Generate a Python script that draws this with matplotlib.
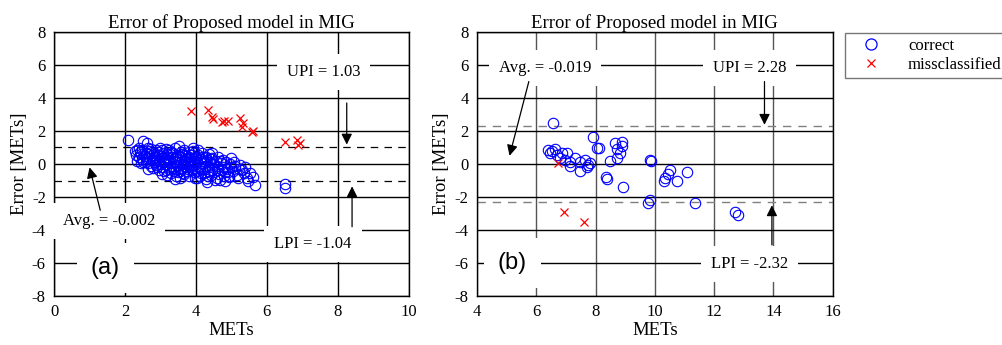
import matplotlib
matplotlib.use("Agg")
import matplotlib.pyplot as plt
from matplotlib.lines import Line2D

plt.rcParams['font.family'] = ['Liberation Serif', 'DejaVu Serif']
plt.rcParams['axes.unicode_minus'] = False

# ---------------- panel (a) data ----------------
a_correct_x = [
    2.09, 2.28, 2.35, 2.42, 2.52, 2.61, 2.30, 2.38, 2.45, 2.48, 2.40, 2.50, 2.35, 2.47, 2.55,
    2.58, 2.62, 2.65, 2.70, 2.72, 2.75, 2.78, 2.80, 2.83, 2.85, 2.88, 2.90, 2.92, 2.95, 2.97,
    2.99, 2.68, 2.74, 2.82, 2.86, 2.93, 2.96, 2.60, 2.64, 2.77,
    3.02, 3.04, 3.06, 3.08, 3.10, 3.12, 3.14, 3.17, 3.19, 3.21, 3.23, 3.25, 3.27, 3.29, 3.31,
    3.33, 3.35, 3.37, 3.39, 3.41, 3.43, 3.45, 3.47, 3.49, 3.05, 3.15, 3.22, 3.30, 3.36, 3.44,
    3.11, 3.26, 3.40, 3.48, 3.18,
    3.52, 3.55, 3.57, 3.59, 3.61, 3.63, 3.65, 3.67, 3.69, 3.71, 3.73, 3.75, 3.77, 3.79, 3.81,
    3.83, 3.85, 3.87, 3.89, 3.91, 3.93, 3.95, 3.97, 3.99, 3.54, 3.62, 3.70, 3.78, 3.86, 3.94,
    3.58, 3.66, 3.74, 3.82, 3.90,
    4.02, 4.04, 4.06, 4.08, 4.10, 4.12, 4.14, 4.16, 4.18, 4.20, 4.22, 4.24, 4.26, 4.28, 4.30,
    4.32, 4.34, 4.36, 4.38, 4.40, 4.42, 4.44, 4.46, 4.48, 4.05, 4.15, 4.25, 4.35, 4.45, 4.11,
    4.52, 4.55, 4.58, 4.60, 4.63, 4.65, 4.68, 4.70, 4.73, 4.75, 4.78, 4.80, 4.83, 4.85, 4.88,
    4.91, 4.93, 4.96, 4.98, 4.62,
    5.00, 5.05, 5.10, 5.15, 5.24, 5.29, 5.35, 5.43, 5.52, 5.61, 5.66, 5.20,
    2.44, 2.66, 2.87, 3.03, 3.16, 3.28, 3.42, 3.56, 3.68, 3.80, 3.92, 4.03, 4.17, 4.29, 4.41,
    4.53, 4.67, 4.81, 4.94, 5.08, 5.18, 5.38, 5.47,
    6.50, 6.50,
]
a_correct_y = [
    1.45, 0.78, 0.85, 0.75, 1.41, 1.25, 0.55, 0.40, 0.62, 0.30, 0.95, 0.15, 0.20, 0.88, 0.50,
    0.70, 0.35, 0.05, 0.80, -0.10, 0.55, 0.25, -0.26, 0.65, 0.10, 0.40, -0.15, 0.75, 0.20, -0.35,
    0.95, 0.60, 0.90, 0.45, -0.05, 0.55, 0.00, 0.15, 0.95, 0.30,
    0.50, -0.20, 0.15, 0.70, -0.45, 0.35, 0.00, -0.67, 0.60, 0.25, -0.30, 0.85, 0.05, -0.55, 0.45,
    -0.10, 0.70, 0.20, -0.40, 0.95, -0.75, 0.30, -0.05, 0.55, 0.85, -0.35, 0.10, 0.75, -0.25, 0.10,
    0.20, -0.15, 0.40, -0.50, 0.45,
    1.09, -0.87, 0.15, -0.30, 0.60, 0.00, -0.60, 0.85, 0.25, -0.15, 0.50, -0.45, 0.05, 0.75, -0.70,
    0.30, -0.20, 0.55, -0.05, 0.95, -0.50, 0.20, -0.85, 0.40, 0.40, -0.55, 0.10, -0.30, 0.20, 0.65,
    0.75, -0.10, 0.35, 0.00, -0.35,
    0.10, -0.40, 0.55, -0.15, 0.30, -0.75, 0.05, 0.70, -0.30, 0.20, -0.55, 0.45, -0.10, -0.90, -1.07,
    0.25, -0.45, 0.60, -0.20, 0.10, -0.65, 0.65, -0.35, 0.00, 0.85, -0.55, 0.10, -0.70, 0.35, -0.25,
    -0.50, 0.20, -0.85, -0.10, 0.40, -0.60, -0.97, 0.05, -0.35, 0.25, -0.75, -0.15, -0.50, 0.10, -0.30,
    -0.47, -0.80, 0.00, -0.20, -0.35,
    0.35, -0.40, -0.10, -0.65, -0.06, -0.36, -0.55, -0.87, -0.56, -0.77, -1.27, -0.30,
    0.05, -0.30, 0.85, -0.60, 0.90, 0.60, -0.90, -0.45, 0.55, 0.45, 0.80, -0.85, 0.45, 0.40, 0.30,
    -0.95, 0.20, -1.00, -0.70, 0.15, -0.85, -0.20, -1.00,
    -1.20, -1.45,
]
a_miss_x = [3.86, 4.34, 4.48, 4.45, 4.73, 4.79, 4.90, 5.24, 5.32, 5.30, 5.58, 5.62,
            6.51, 6.85, 6.87, 6.93]
a_miss_y = [3.21, 3.27, 2.73, 2.85, 2.55, 2.60, 2.60, 2.77, 2.50, 2.22, 1.94, 2.00,
            1.33, 1.45, 1.15, 1.27]
a_avg, a_upi, a_lpi = -0.002, 1.03, -1.04

# ---------------- panel (b) data ----------------
b_correct_x = [6.58, 7.93, 8.06, 8.13, 8.66, 8.89, 8.89, 8.72, 8.83, 8.72, 8.49,
               6.41, 6.52, 6.64, 6.47, 6.69, 6.86, 7.03, 6.80, 6.97, 7.14, 7.31, 7.48,
               7.65, 7.82, 7.76, 7.14, 7.48, 7.71,
               8.36, 8.40, 8.92, 9.85, 9.87, 9.76, 9.85,
               10.52, 10.46, 10.35, 10.30, 10.75, 11.08, 11.34, 12.72, 12.80]
b_correct_y = [2.50, 1.65, 1.00, 1.00, 1.29, 1.35, 1.09, 0.89, 0.65, 0.35, 0.18,
               0.85, 0.79, 0.89, 0.65, 0.55, 0.65, 0.69, 0.35, 0.24, 0.14, 0.35, 0.14,
               0.24, 0.04, -0.06, -0.12, -0.40, -0.16,
               -0.81, -0.89, -1.41, 0.24, 0.18, -2.34, -2.18,
               -0.36, -0.61, -0.87, -1.01, -1.01, -0.50, -2.38, -2.93, -3.09]
b_miss_x = [6.75, 6.94, 7.61]
b_miss_y = [0.08, -2.89, -3.50]
b_avg, b_upi, b_lpi = -0.019, 2.28, -2.32

title = "Error of Proposed model in MIG"

fig = plt.figure(figsize=(10.02, 3.45), dpi=100)
ax_a = fig.add_axes([0.054, 0.142, 0.354, 0.765])
ax_b = fig.add_axes([0.476, 0.142, 0.355, 0.765])

BLUE = '#0000ff'
RED = '#ff0000'
box = dict(boxstyle='square,pad=0.6', facecolor='white', edgecolor='none')
arrow = dict(arrowstyle='-|>', color='black', lw=0.9, mutation_scale=16,
             shrinkA=0, shrinkB=0)


def style_axes(ax, xlim, xticks, grid_color):
    ax.set_xlim(*xlim)
    ax.set_ylim(-8, 8)
    ax.set_xticks(xticks)
    ax.set_yticks(range(-8, 9, 2))
    for v in xticks:
        ax.axvline(v, color=grid_color, lw=1.0, zorder=0)
    for v in range(-8, 9, 2):
        ax.axhline(v, color='black', lw=1.0, zorder=0)
    ax.tick_params(direction='in', length=0, labelsize=12, pad=6)
    for s in ax.spines.values():
        s.set_linewidth(1.0)
    ax.set_title(title, fontsize=13.5, pad=3)
    ax.set_xlabel('METs', fontsize=13.5, labelpad=1)
    ax.set_ylabel('Error [METs]', fontsize=13.5, labelpad=3)


# ---- panel (a)
style_axes(ax_a, (0, 10), list(range(0, 11, 2)), 'black')
ax_a.axhline(a_upi, color='black', ls=(0, (6, 5)), lw=0.9, zorder=1)
ax_a.axhline(a_lpi, color='black', ls=(0, (6, 5)), lw=0.9, zorder=1)
ax_a.plot(a_correct_x, a_correct_y, 'o', mfc='none', mec=BLUE, ms=7.5, mew=0.8, zorder=3)
ax_a.plot(a_miss_x, a_miss_y, 'x', color=RED, ms=6, mew=0.9, zorder=3)

ax_a.text(7.6, 5.6, 'UPI = %.2f' % a_upi, fontsize=12, ha='center', va='center', bbox=box, zorder=4)
ax_a.annotate('', xy=(8.25, a_upi + 0.15), xytext=(8.25, 3.7), arrowprops=arrow, zorder=5)
ax_a.text(7.3, -4.85, 'LPI = %.2f' % a_lpi, fontsize=12, ha='center', va='center', bbox=box, zorder=4)
ax_a.annotate('', xy=(8.4, -1.35), xytext=(8.4, -3.8), arrowprops=arrow, zorder=5)
ax_a.text(1.55, -3.45, 'Avg. = %.3f' % a_avg, fontsize=12, ha='center', va='center', bbox=box, zorder=4)
ax_a.annotate('', xy=(1.0, -0.2), xytext=(1.3, -2.8), arrowprops=arrow, zorder=5)
ax_a.text(1.45, -6.3, '(a)', fontsize=17, family=['Liberation Sans', 'DejaVu Sans'],
          ha='center', va='center', bbox=box, zorder=4)

# ---- panel (b)
style_axes(ax_b, (4, 16), list(range(4, 17, 2)), '#555555')
ax_b.axhline(b_upi, color='#808080', ls=(0, (6, 5)), lw=1.0, zorder=1)
ax_b.axhline(b_lpi, color='#808080', ls=(0, (6, 5)), lw=1.0, zorder=1)
ax_b.plot(b_correct_x, b_correct_y, 'o', mfc='none', mec=BLUE, ms=7.5, mew=0.8, zorder=3)
ax_b.plot(b_miss_x, b_miss_y, 'x', color=RED, ms=6, mew=0.9, zorder=3)

ax_b.text(6.3, 5.8, 'Avg. = %.3f' % b_avg, fontsize=12, ha='center', va='center', bbox=box, zorder=4)
ax_b.annotate('', xy=(5.1, 0.5), xytext=(5.75, 5.0), arrowprops=arrow, zorder=5)
ax_b.text(13.2, 5.8, 'UPI = %.2f' % b_upi, fontsize=12, ha='center', va='center', bbox=box, zorder=4)
ax_b.annotate('', xy=(13.7, b_upi + 0.1), xytext=(13.7, 5.0), arrowprops=arrow, zorder=5)
ax_b.text(13.2, -6.05, 'LPI = %.2f' % b_lpi, fontsize=12, ha='center', va='center', bbox=box, zorder=4)
ax_b.annotate('', xy=(13.95, -2.5), xytext=(13.95, -4.9), arrowprops=arrow, zorder=5)
ax_b.text(5.2, -6.0, '(b)', fontsize=17, family=['Liberation Sans', 'DejaVu Sans'],
          ha='center', va='center', bbox=box, zorder=4)

# ---- shared legend
handles = [
    Line2D([], [], ls='none', marker='o', mfc='none', mec=BLUE, ms=8, mew=0.9, label='correct'),
    Line2D([], [], ls='none', marker='x', color=RED, ms=6, mew=0.9, label='missclassified'),
]
fig.legend(handles=handles, loc='upper left', bbox_to_anchor=(0.843, 0.905),
           fontsize=12, frameon=True, fancybox=False, edgecolor='#555555',
           borderpad=0.3, labelspacing=0.2, handletextpad=0.9, borderaxespad=0,
           handlelength=2.6)

fig.savefig('out.png', dpi=100)
